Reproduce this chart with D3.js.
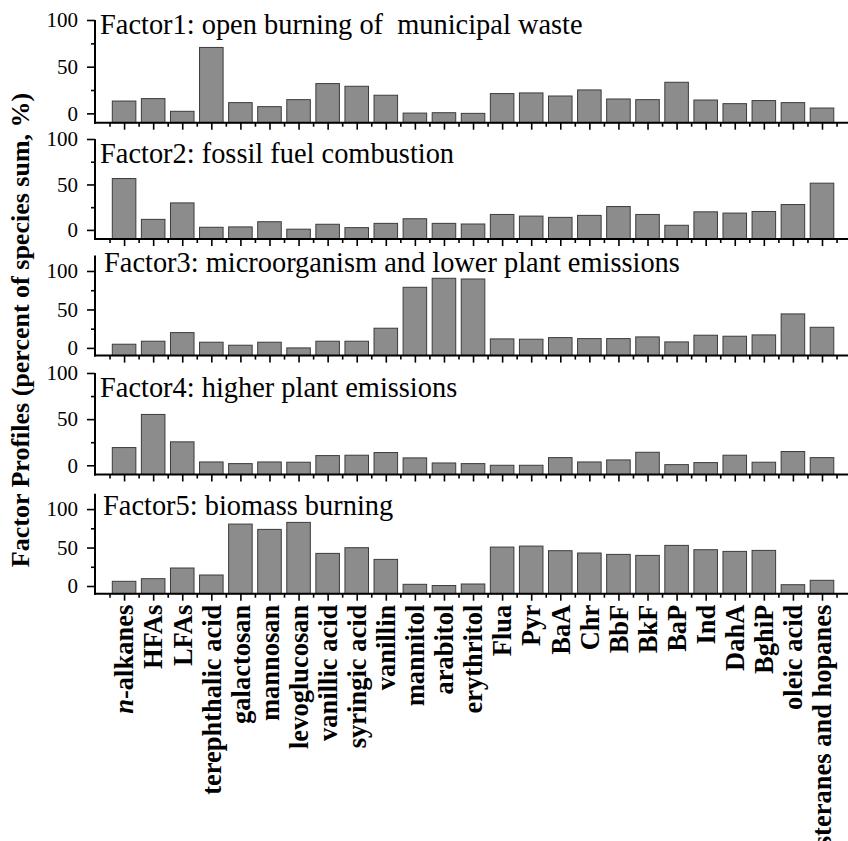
<!DOCTYPE html>
<html>
<head>
<meta charset="utf-8">
<script src="https://cdn.jsdelivr.net/npm/d3@7/dist/d3.min.js"></script>
<style>
  html, body { margin: 0; padding: 0; background: #fff; }
  svg { display: block; }
  text { font-family: "Liberation Serif", "Times New Roman", serif; fill: #000; }
</style>
</head>
<body>
<svg id="chart" width="848" height="841"></svg>
<script>
// Species measured in each factor profile
const categories = [
  "n-alkanes", "HFAs", "LFAs", "terephthalic acid", "galactosan", "mannosan",
  "levoglucosan", "vanillic acid", "syringic acid", "vanillin", "mannitol",
  "arabitol", "erythritol", "Flua", "Pyr", "BaA", "Chr", "BbF", "BkF", "BaP",
  "Ind", "DahA", "BghiP", "oleic acid", "steranes and hopanes"
];

const factorTitles = [
  "Factor1: open burning of  municipal waste",
  "Factor2: fossil fuel combustion",
  "Factor3: microorganism and lower plant emissions",
  "Factor4: higher plant emissions",
  "Factor5: biomass burning"
];

// Factor profiles (percent of species sum, %)
const factor1 = [13.2, 15.8, 2.2, 70.6, 11.5, 7.2, 14.7, 31.9, 29.0, 19.4, 0.3, 0.7, 0.0,
                 21.2, 21.9, 18.6, 25.1, 15.4, 14.7, 33.3, 14.3, 10.4, 13.7, 11.5, 5.7];
const factor2 = [56.5, 11.6, 29.7, 2.9, 3.3, 9.0, 0.8, 6.2, 2.5, 7.2, 12.3, 7.2, 6.5,
                 17.0, 15.2, 13.8, 16.0, 25.7, 17.0, 5.1, 19.9, 18.5, 20.3, 27.9, 51.4];
const factor3 = [4.8, 8.7, 19.9, 7.4, 3.5, 7.4, 0.0, 8.7, 8.7, 25.6, 78.8, 90.5, 89.6,
                 11.7, 11.3, 13.4, 12.1, 12.1, 14.3, 7.8, 16.5, 15.2, 16.9, 44.2, 26.8];
const factor4 = [19.2, 55.1, 25.4, 3.6, 1.8, 3.6, 3.3, 10.5, 10.9, 13.8, 8.0, 2.5, 1.8,
                 0.0, 0.0, 8.3, 3.6, 5.8, 14.1, 0.7, 2.9, 10.9, 3.3, 14.9, 8.3];
const factor5 = [6.1, 9.5, 23.4, 14.3, 80.5, 73.6, 82.7, 42.4, 49.8, 34.6, 2.2, 0.6, 2.6,
                 50.6, 51.9, 45.9, 42.9, 41.1, 39.8, 52.8, 47.2, 45.0, 46.3, 1.7, 7.4];

const majorYTicks = [0, 50, 100];
const minorYTicks = [25, 75];
const yAxisTitle = "Factor Profiles (percent of species sum, %)";

const series = [factor1, factor2, factor3, factor4, factor5];

// Panel geometry: bottom edge, height, y-domain, title position
const panelBottom = [122.7, 239, 355.6, 474.5, 593.7];
const panelHeight = [102.7, 100, 100, 101.5, 100];
const yDomains = [[-10, 100], [-10, 100], [-10, 120], [-10, 100], [-10, 120]];
const titleX = [100, 100, 104, 100, 103];
const titleY = [34.3, 163.3, 271.7, 396.7, 515];

const svg = d3.select("#chart");
const left = 95;
const step = 29.08;

const x = d3.scaleLinear()
  .domain([0, categories.length + 1])
  .range([left, left + step * (categories.length + 1)]);
const barW = step * 0.81;

const majorX = d3.range(1, categories.length + 1);
const minorX = d3.range(0, categories.length + 1).map(d => d + 0.5);

series.forEach((vals, p) => {
  const bottom = panelBottom[p];
  const y = d3.scaleLinear().domain(yDomains[p]).range([bottom, bottom - panelHeight[p]]);
  const g = svg.append("g");
  const base = y(yDomains[p][0]);

  // bars rise from the bottom of the axis
  g.selectAll("rect.bar").data(vals).join("rect")
    .attr("class", "bar")
    .attr("x", (d, i) => x(i + 1) - barW / 2)
    .attr("width", barW)
    .attr("y", d => y(d))
    .attr("height", d => base - y(d))
    .attr("fill", "#8c8c8c")
    .attr("stroke", "#3c3c3c")
    .attr("stroke-width", 1);

  // y axis: major ticks with labels, minor ticks without
  const yAxis = d3.axisLeft(y).tickValues(majorYTicks).tickSize(8).tickPadding(9)
    .tickFormat(d3.format("d"));
  const ya = g.append("g").attr("transform", `translate(${left},0)`).call(yAxis);
  ya.select(".domain").remove();
  ya.selectAll("line").attr("stroke", "#000").attr("stroke-width", 1.6);
  ya.selectAll("text")
    .style("font-family", '"Liberation Serif", "Times New Roman", serif')
    .style("font-size", "21px")
    .attr("fill", "#000");
  const yMinor = d3.axisLeft(y).tickValues(minorYTicks).tickSize(4).tickFormat("");
  const ym = g.append("g").attr("transform", `translate(${left},0)`).call(yMinor);
  ym.select(".domain").remove();
  ym.selectAll("line").attr("stroke", "#000").attr("stroke-width", 1.6);

  g.append("line")
    .attr("x1", left).attr("x2", left)
    .attr("y1", y(yDomains[p][1])).attr("y2", bottom + 1)
    .attr("stroke", "#000").attr("stroke-width", 2);

  // x axis: major ticks at categories, minor ticks between them
  const xAxis = d3.axisBottom(x).tickValues(majorX).tickSize(7).tickFormat("");
  const xa = g.append("g").attr("transform", `translate(0,${bottom})`).call(xAxis);
  xa.select(".domain").remove();
  xa.selectAll("line").attr("stroke", "#000").attr("stroke-width", 1.6);
  const xMinor = d3.axisBottom(x).tickValues(minorX).tickSize(4).tickFormat("");
  const xm = g.append("g").attr("transform", `translate(0,${bottom})`).call(xMinor);
  xm.select(".domain").remove();
  xm.selectAll("line").attr("stroke", "#000").attr("stroke-width", 1.6);

  g.append("line")
    .attr("x1", left - 1).attr("x2", x.range()[1])
    .attr("y1", bottom).attr("y2", bottom)
    .attr("stroke", "#000").attr("stroke-width", 2);

  g.append("text")
    .attr("x", titleX[p]).attr("y", titleY[p])
    .attr("xml:space", "preserve")
    .style("white-space", "pre")
    .style("font-size", "28.4px")
    .text(factorTitles[p]);

  // category labels under the last panel
  if (p === series.length - 1) {
    const labels = g.selectAll("text.cat").data(categories).join("text")
      .attr("class", "cat")
      .attr("transform", (d, i) => `translate(${x(i + 1)},${bottom + 11}) rotate(-90)`)
      .attr("text-anchor", "end")
      .attr("dy", "0.35em")
      .style("font-size", "26.5px")
      .style("font-weight", "bold");
    labels.each(function(d) {
      const t = d3.select(this);
      if (d.startsWith("n-")) {
        t.append("tspan").style("font-style", "italic").text("n");
        t.append("tspan").text(d.slice(1));
      } else {
        t.text(d);
      }
    });
  }
});

svg.append("text")
  .attr("transform", "translate(29,330) rotate(-90)")
  .attr("text-anchor", "middle")
  .style("font-size", "26px")
  .style("font-weight", "bold")
  .text(yAxisTitle);
</script>
</body>
</html>
